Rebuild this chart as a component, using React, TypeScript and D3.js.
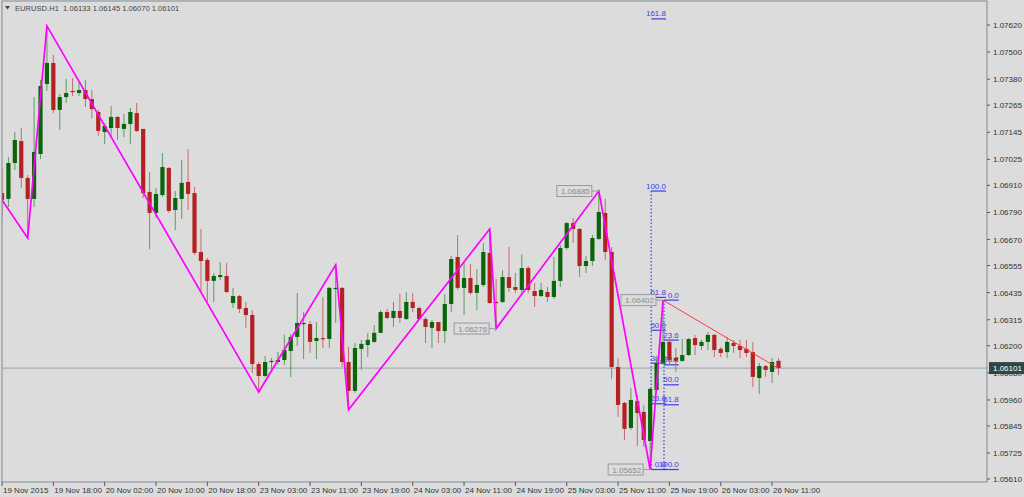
import React from 'react';
import * as d3 from 'd3';

const symbol = 'EURUSD.H1';
const lastQuote = ['1.06133', '1.06145', '1.06070', '1.06101'];
const currentPrice = 1.06101;

const opens = [1.06876,1.06850,1.07009,1.07106,1.06943,1.06850,1.07049,1.07359,1.07452,1.07244,
1.07301,1.07328,1.07319,1.07332,1.07292,1.07235,1.07146,1.07164,1.07213,1.07160,
1.07182,1.07230,1.07160,1.06881,1.06788,1.06867,1.06987,1.06801,1.06850,1.06925,
1.06876,1.06615,1.06580,1.06487,1.06504,1.06509,1.06389,1.06420,1.06367,1.06336,
1.06119,1.06066,1.06128,1.06128,1.06137,1.06177,1.06239,1.06296,1.06296,1.06221,
1.06234,1.06230,1.06451,1.06456,1.06128,1.06000,1.06186,1.06203,1.06217,1.06257,
1.06349,1.06323,1.06354,1.06318,1.06394,1.06367,1.06318,1.06279,1.06305,1.06265,
1.06385,1.06593,1.06456,1.06500,1.06434,1.06469,1.06611,1.06394,1.06394,1.06504,
1.06460,1.06447,1.06544,1.06442,1.06420,1.06438,1.06416,1.06487,1.06633,1.06743,
1.06717,1.06553,1.06575,1.06673,1.06788,1.06615,1.06106,1.05947,1.05836,1.05955,
1.05907,1.05778,1.06004,1.06124,1.06217,1.06146,1.06133,1.06159,1.06234,1.06199,
1.06217,1.06248,1.06186,1.06172,1.06212,1.06199,1.06186,1.06172,1.06057,1.06110,
1.06084,1.06133];

const highs = [1.06987,1.07036,1.07146,1.07164,1.06956,1.07301,1.07377,1.07616,1.07487,1.07315,
1.07381,1.07385,1.07372,1.07377,1.07332,1.07244,1.07186,1.07261,1.07217,1.07226,
1.07253,1.07275,1.07160,1.06969,1.06898,1.07053,1.06991,1.06885,1.07022,1.07071,
1.06903,1.06717,1.06589,1.06522,1.06571,1.06566,1.06456,1.06425,1.06394,1.06358,
1.06128,1.06155,1.06146,1.06172,1.06248,1.06252,1.06434,1.06349,1.06310,1.06305,
1.06416,1.06460,1.06558,1.06460,1.06195,1.06212,1.06226,1.06257,1.06292,1.06358,
1.06363,1.06394,1.06429,1.06438,1.06434,1.06372,1.06327,1.06314,1.06305,1.06429,
1.06597,1.06690,1.06566,1.06562,1.06540,1.06655,1.06717,1.06496,1.06535,1.06637,
1.06522,1.06606,1.06553,1.06478,1.06478,1.06460,1.06593,1.06646,1.06748,1.06766,
1.06721,1.06597,1.06690,1.06885,1.06850,1.06637,1.06146,1.05951,1.06013,1.05982,
1.05938,1.06013,1.06146,1.06402,1.06239,1.06190,1.06230,1.06234,1.06248,1.06226,
1.06261,1.06252,1.06195,1.06239,1.06226,1.06226,1.06226,1.06217,1.06124,1.06115,
1.06146,1.06145];

const lows = [1.06766,1.06814,1.06978,1.06898,1.06677,1.06814,1.07027,1.07328,1.07230,1.07155,
1.07275,1.07306,1.07306,1.07257,1.07208,1.07129,1.07093,1.07120,1.07111,1.07124,
1.07093,1.07146,1.06854,1.06628,1.06766,1.06859,1.06788,1.06712,1.06761,1.06801,
1.06602,1.06438,1.06394,1.06394,1.06491,1.06434,1.06367,1.06345,1.06279,1.06079,
1.05995,1.06062,1.06093,1.06115,1.06115,1.06062,1.06199,1.06141,1.06168,1.06141,
1.06190,1.06190,1.06301,1.06106,1.05916,1.05991,1.06093,1.06150,1.06212,1.06257,
1.06318,1.06283,1.06301,1.06314,1.06349,1.06314,1.06212,1.06190,1.06212,1.06212,
1.06349,1.06447,1.06336,1.06425,1.06358,1.06460,1.06387,1.06276,1.06389,1.06438,
1.06434,1.06425,1.06434,1.06372,1.06416,1.06394,1.06407,1.06460,1.06624,1.06655,
1.06504,1.06522,1.06553,1.06668,1.06580,1.06053,1.05885,1.05783,1.05827,1.05756,
1.05752,1.05652,1.05991,1.06115,1.06115,1.06084,1.06128,1.06155,1.06159,1.06181,
1.06181,1.06150,1.06150,1.06146,1.06168,1.06146,1.06150,1.06017,1.05986,1.06062,
1.06035,1.06070];

const closes = [1.06845,1.07009,1.07111,1.06943,1.06850,1.07058,1.07350,1.07452,1.07244,1.07301,
1.07319,1.07323,1.07332,1.07292,1.07248,1.07151,1.07173,1.07213,1.07164,1.07182,
1.07235,1.07151,1.06876,1.06788,1.06872,1.06991,1.06797,1.06854,1.06921,1.06872,
1.06611,1.06575,1.06487,1.06509,1.06513,1.06438,1.06420,1.06363,1.06336,1.06119,
1.06066,1.06128,1.06133,1.06137,1.06181,1.06239,1.06301,1.06301,1.06217,1.06234,
1.06230,1.06456,1.06456,1.06128,1.06000,1.06190,1.06208,1.06226,1.06257,1.06349,
1.06323,1.06354,1.06323,1.06394,1.06367,1.06318,1.06283,1.06305,1.06265,1.06385,
1.06584,1.06456,1.06500,1.06434,1.06469,1.06615,1.06389,1.06389,1.06504,1.06456,
1.06447,1.06544,1.06447,1.06420,1.06447,1.06416,1.06487,1.06633,1.06743,1.06717,
1.06553,1.06575,1.06677,1.06792,1.06615,1.06106,1.05938,1.05832,1.05960,1.05902,
1.05783,1.06009,1.06124,1.06217,1.06137,1.06133,1.06159,1.06230,1.06203,1.06217,
1.06248,1.06181,1.06168,1.06217,1.06199,1.06181,1.06168,1.06062,1.06110,1.06093,
1.06128,1.06101];

const priceTicks = [1.07620,1.07500,1.07380,1.07265,1.07145,1.07025,1.06910,1.06790,1.06670,
1.06555,1.06435,1.06315,1.06200,1.06080,1.05960,1.05845,1.05725,1.05610];

const timeLabels = ['19 Nov 2015','19 Nov 18:00','20 Nov 02:00','20 Nov 10:00','20 Nov 18:00',
'23 Nov 03:00','23 Nov 11:00','23 Nov 19:00','24 Nov 03:00','24 Nov 11:00','24 Nov 19:00',
'25 Nov 03:00','25 Nov 11:00','25 Nov 19:00','26 Nov 03:00','26 Nov 11:00'];
const timeLabelBars = [0,8,16,24,32,40,48,56,64,72,80,88,96,104,112,120];

const zigzagBars = [0,4,7,40,52,54,76,77,93,101,103];
const zigzagPrices = [1.06845,1.06677,1.07616,1.05995,1.06558,1.05916,1.06717,1.06276,1.06885,1.05652,1.06402];

const pivotLabelBars = [93,77,101,103];
const pivotLabelPrices = [1.06885,1.06276,1.05652,1.06402];

const fibALevels = [0,23.6,38.2,50,61.8,100,161.8];
const fibABars = [101,103];
const fibAPrices = [1.05652,1.06885]; // 0 level, 100 level
const fibBLevels = [0,23.6,38.2,50,61.8,100];
const fibBBars = [103,105];
const fibBPrices = [1.06402,1.05652];

const trendBars = [103,121];
const trendPrices = [1.06402,1.06100];

const W = 1024, H = 497;
const PL = 2, PR = 987, PT = 1, PB = 482;
const FONT = '"Liberation Sans", Arial, sans-serif';
const BG = '#dcdcdc';
const FIB = '#3c3cf0';

export default function App() {
  const x = d3.scaleLinear().domain([0, 121]).range([2, 778.5]);
  const y = d3.scaleLinear().domain([1.0561, 1.0762]).range([479, 25]);
  const zz = d3.line<number>().x((d, i) => x(zigzagBars[i])).y((d) => y(d));
  const bw = 4.2;

  const fib = (levels: number[], bars: number[], prices: number[], key: string, vTop: number) => {
    const x0 = x(bars[0]) + 1;
    const x1 = x(bars[1]) + 3;
    const lv = (l: number) => y(prices[0] + (prices[1] - prices[0]) * l / 100);
    return (
      <g key={key}>
        <line x1={x0} x2={x0} y1={lv(vTop)} y2={lv(0)} stroke={FIB} strokeWidth={1.2} strokeDasharray="1.5,2" />
        {levels.map((l) => (
          <g key={l}>
            <line x1={x0} x2={x1} y1={lv(l)} y2={lv(l)} stroke={FIB} strokeWidth={1.2} />
            <text x={x1} y={lv(l) - 2.5} textAnchor="end" fontSize={8} fontFamily={FONT} fill={FIB}>{l.toFixed(1)}</text>
          </g>
        ))}
      </g>
    );
  };

  return (
    <svg width={W} height={H} style={{ position: 'absolute', left: 0, top: 0, background: BG }}>
      <defs>
        <clipPath id="plot"><rect x={PL} y={PT} width={PR - PL} height={PB - PT} /></clipPath>
      </defs>
      <rect x={0} y={0} width={W} height={H} fill={BG} />
      <g clipPath="url(#plot)">
        <line x1={PL} x2={PR} y1={y(currentPrice)} y2={y(currentPrice)} stroke="#a2adb8" strokeWidth={1.4} />
        {fib(fibALevels, fibABars, fibAPrices, 'fa', 100)}
        {fib(fibBLevels, fibBBars, fibBPrices, 'fb', 100)}
        {opens.map((o, i) => {
          const c = closes[i];
          const up = c > o;
          const cx = x(i);
          const top = y(Math.max(o, c));
          const bot = y(Math.min(o, c));
          return (
            <g key={i}>
              <line x1={cx} x2={cx} y1={y(highs[i])} y2={y(lows[i])} stroke={up ? '#5f9a5f' : '#c46a6a'} strokeWidth={1} />
              <rect x={cx - bw / 2} y={top} width={bw} height={Math.max(1.2, bot - top)} fill={up ? '#0a640a' : '#b32222'} />
            </g>
          );
        })}
        <path d={zz(zigzagPrices) || ''} fill="none" stroke="#ff00ff" strokeWidth={1.7} />
        <line x1={x(trendBars[0])} y1={y(trendPrices[0])} x2={x(trendBars[1])} y2={y(trendPrices[1])} stroke="#ff3b3b" strokeWidth={1} />
        {pivotLabelPrices.map((p, i) => {
          const pvx = x(pivotLabelBars[i]);
          const px = pvx - 7;
          const py = y(p);
          return (
            <g key={i}>
              <line x1={px} x2={pvx} y1={py} y2={py} stroke="#9a9a9a" strokeWidth={1} />
              <rect x={px - 35} y={py - 5.5} width={35} height={11} fill={BG} stroke="#9a9a9a" strokeWidth={1} />
              <text x={px - 2} y={py + 3} textAnchor="end" fontSize={8} fontFamily={FONT} fill="#8a8a8a">{p.toFixed(5)}</text>
            </g>
          );
        })}
      </g>
      <rect x={PL} y={PT} width={PR - PL} height={PB - PT} fill="none" stroke="#7f8b92" strokeWidth={1} />
      {priceTicks.map((p) => (
        <g key={p}>
          <line x1={PR} x2={PR + 3} y1={y(p)} y2={y(p)} stroke="#555" />
          <text x={PR + 6} y={y(p) + 3} fontSize={8} fontFamily={FONT} fill="#333">{p.toFixed(5)}</text>
        </g>
      ))}
      <rect x={PR + 2} y={y(currentPrice) - 6} width={W - PR - 2} height={12} fill="#2b4747" />
      <text x={PR + 6} y={y(currentPrice) + 3} fontSize={8} fontFamily={FONT} fill="#ffffff">{currentPrice.toFixed(5)}</text>
      {timeLabels.map((t, i) => (
        <g key={t}>
          <line x1={x(timeLabelBars[i])} x2={x(timeLabelBars[i])} y1={PB} y2={PB + 4} stroke="#555" />
          <text x={x(timeLabelBars[i]) + 1} y={PB + 11} fontSize={8} fontFamily={FONT} fill="#333">{t}</text>
        </g>
      ))}
      <path d="M5,6 L10,6 L7.5,9.5 Z" fill="#444" />
      <text x={15} y={11} fontSize={7.6} fontFamily={FONT} fill="#444" xmlSpace="preserve">
        {symbol + '  ' + lastQuote.join(' ')}
      </text>
    </svg>
  );
}
